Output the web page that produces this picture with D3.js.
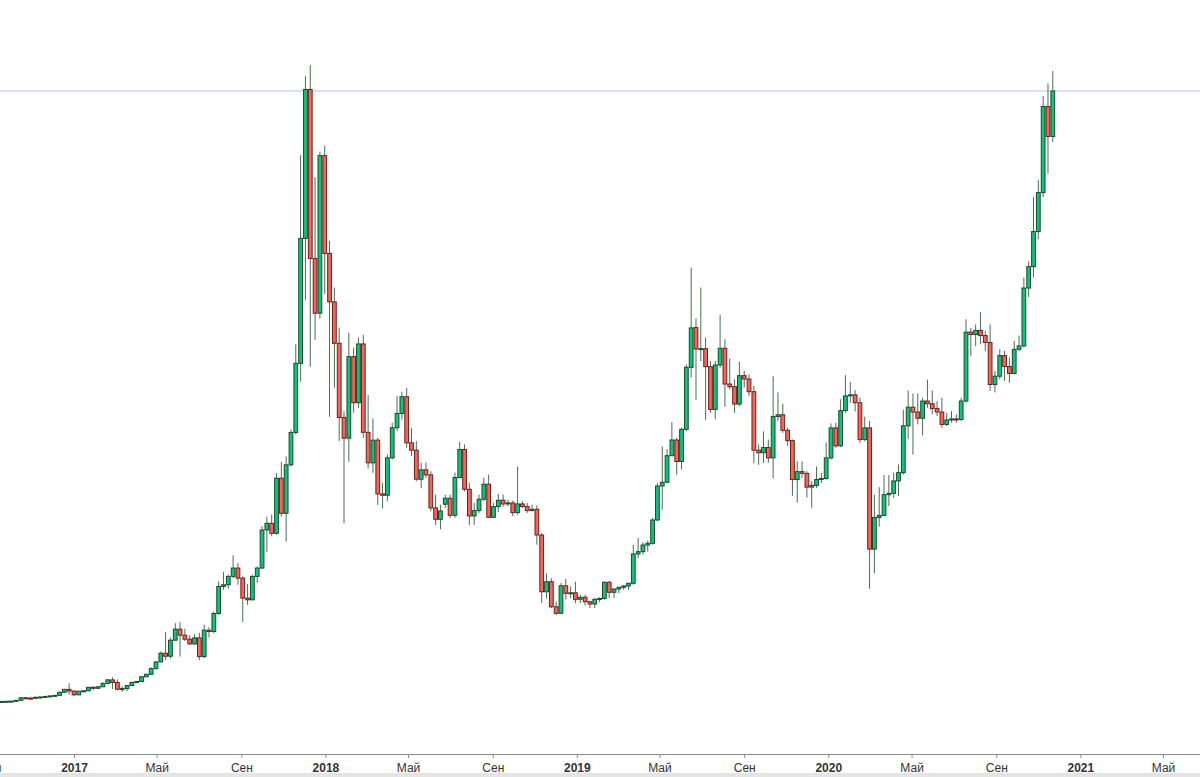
<!DOCTYPE html>
<html>
<head>
<meta charset="utf-8">
<script src="https://cdnjs.cloudflare.com/ajax/libs/d3/7.8.5/d3.min.js"></script>
<style>
    body { margin: 0; background: #fff; }
    #chart svg { display: block; }
</style>
</head>
<body>
<div id="chart"></div>
<script>
// Weekly BTC/USD candles, weeks start on Sunday
var firstWeek = "2016-09-11";

var opens = [610,601,606,611,617,640,716,706,702,730,740,757,772,788,880,
    968,918,806,912,926,1030,1000,1046,1140,1252,1175,972,992,1082,1175,1205,1345,1420,1590,1790,
    2050,1960,2440,2770,2590,2470,2330,2510,1950,2740,2700,3240,4050,4100,4350,4600,4300,3700,3650,4350,
    4600,5740,5940,5640,7290,6240,7690,8660,10730,14470,18930,13870,12230,
    16950,14020,12570,11330,9110,8490,10930,9550,11310,8665,7750,8430,6820,6780,7900,8800,9230,9730,8350,8130,
    7260,7540,7390,6400,6060,6510,6690,6180,7310,8150,6960,6160,6320,6660,7110,6120,6440,6630,6520,6550,
    6260,6520,6440,6320,6360,5590,3890,4190,3440,3245,4070,
    3845,3860,3665,3725,3593,3524,3665,3690,4174,3874,3973,4024,4063,4144,5021,5090,5290,5341,6039,7057,
    7168,7964,8434,7790,8754,10611,11800,11160,11170,10630,9350,10680,11180,10110,10030,9510,10360,10260,
    9880,8130,8055,8209,7899,9137,9189,8725,8415,7250,7487,7435,7023,7075,7250,
    7281,7899,8797,8260,9313,9756,9787,9550,8446,8797,5167,6116,6177,6796,6837,7208,7456,8859,9416,9271,
    9085,9601,9519,9374,9271,8900,9034,9065,9050,9601,11664,11592,11716,11561,11354,10096,10344,10962,10632,
    10426,11148,11251,12984,13623,14675,15841,18419,17522];

var highs = [615,612,615,620,642,722,742,745,750,752,770,778,796,900,982,
    1150,925,925,935,1035,1050,1060,1190,1280,1330,1260,1060,1095,1200,1215,1350,1440,1630,1810,2100,
    2680,2520,2950,2980,2780,2590,2620,2660,2900,2830,3300,4200,4480,4400,4980,4750,4350,4120,4400,4650,
    5850,6140,6200,7440,7780,7940,8750,11300,16970,19330,19660,16300,17070,
    17250,14400,13000,11800,9300,11650,11200,11500,11580,9780,9080,8500,7150,8000,8950,9750,9880,9990,8790,8400,
    7760,7760,7500,6800,6500,6800,6800,7460,8380,8300,7150,6550,6800,7310,7400,6550,6820,6800,6650,6620,
    7640,6600,6550,6500,6480,5650,4440,4300,3600,4150,4280,
    4050,4190,3800,3800,3620,3700,3720,4200,4220,3990,4040,4090,4150,5290,5500,5380,5420,6100,7150,8240,
    8160,8970,8500,8800,10700,13600,12080,13000,11500,10800,10800,12180,11450,10880,10250,10780,10500,10400,
    10050,8300,8694,8450,10344,9859,9519,8800,8450,7796,7796,7500,7200,7642,7450,
    8364,8931,8950,9653,10375,10168,9931,9700,9137,9000,6796,7023,7384,7384,7456,7700,9343,9911,9828,9828,
    9700,10241,9911,9600,9700,9250,9300,9200,9700,12050,11787,11891,12262,11700,11891,10500,11150,11100,
    10900,11400,11561,13300,13778,15706,16222,18728,19110,19481];

var lows = [596,594,600,606,612,635,695,700,695,722,730,748,760,782,872,
    812,760,795,885,915,950,990,1040,1130,980,940,890,920,1070,1150,1190,1330,1405,1560,1780,
    1850,1890,2430,1950,2420,2300,2300,1850,1900,2520,2650,3200,3950,3980,4300,4100,2980,3500,3630,4150,
    4570,5090,5550,5600,6140,5390,7650,8600,10180,12630,10630,11430,12070,
    12800,9130,10000,8400,5940,7780,9250,9400,8500,7580,7450,6490,6390,6600,7850,8700,9050,8200,7950,7200,
    6990,7300,6300,5890,5760,6400,6100,6100,7300,6900,5890,5890,6250,6600,6100,6100,6280,6440,6450,6150,
    6200,6400,6250,6300,5300,3550,3690,3400,3190,3230,3660,
    3700,3550,3550,3480,3400,3400,3580,3650,3700,3700,3850,3950,3950,4100,4900,5000,5090,5300,6000,6340,
    7150,7950,7390,7550,8700,10300,9630,10800,9030,9250,9050,10600,9430,9950,9250,9450,10000,9750,
    7740,7693,7745,7750,7281,9000,8650,8260,6765,6559,7300,6713,6404,7000,7150,
    7250,7850,8200,8220,9250,9550,9290,8350,8400,3980,4445,5837,6150,6456,6700,6765,7400,8467,8000,8900,
    8570,9400,9200,9150,8800,8850,8950,8950,9000,9550,10942,11251,11300,11100,9900,9859,10250,10200,
    10150,10400,11100,11200,12716,13300,14450,15706,16408,17357];

var closes = [601,606,611,617,640,716,706,702,730,740,757,772,788,880,968,
    918,806,912,926,1030,1000,1046,1140,1252,1175,972,992,1082,1175,1205,1345,1420,1590,1790,2050,
    1960,2440,2770,2590,2470,2330,2510,1950,2740,2700,3240,4050,4100,4350,4600,4300,3700,3650,4350,4600,
    5740,5940,5640,7290,6240,7690,8660,10730,14470,18930,13870,12230,16950,
    14020,12570,11330,9110,8490,10930,9550,11310,8665,7750,8430,6820,6780,7900,8800,9230,9730,8350,8130,7260,
    7540,7390,6400,6060,6310,6690,6180,7310,8150,6960,6160,6320,6660,7110,6120,6440,6630,6520,6550,6260,
    6520,6440,6320,6360,5590,3890,4190,3440,3245,4070,3845,
    3860,3665,3725,3593,3524,3665,3690,4174,3874,3973,4024,4063,4144,5021,5090,5290,5341,6039,7057,7168,
    7964,8434,7790,8754,10611,11790,11160,11170,10630,9350,10680,11180,10110,10030,9510,10360,10260,9880,
    8130,8055,8209,7899,9137,9189,8725,8415,7250,7487,7435,7023,7075,7250,7281,
    7899,8797,8260,9313,9756,9787,9550,8446,8797,5167,6116,6177,6796,6837,7208,7456,8859,9416,9271,9085,
    9601,9519,9374,9271,8900,9034,9065,9050,9601,11664,11592,11716,11561,11354,10096,10344,10962,10632,10426,
    11148,11251,12984,13623,14675,15841,18419,17522,18883];

// Axis ticks: Jan (year), May, Sep
var tickDates = ["2016-09-01","2017-01-01","2017-05-01","2017-09-01","2018-01-01","2018-05-01","2018-09-01",
    "2019-01-01","2019-05-01","2019-09-01","2020-01-01","2020-05-01","2020-09-01","2021-01-01","2021-05-01"];
var monthNames = {4: "Май", 8: "Сен"};

var width = 1200, height = 777,
    axisY = 754,
    upFill = "#0fc47a", upStroke = "#1b4a30",
    downFill = "#f2665c", downStroke = "#6e1f1a",
    wickColor = "#466f57",
    lastLineColor = "#ccd4f6";

var candles = opens.map(function (o, i) {
    return {
        date: d3.utcWeek.offset(new Date(firstWeek), i),
        open: o, high: highs[i], low: lows[i], close: closes[i]
    };
});

var svg = d3.select("#chart").append("svg")
    .attr("width", width)
    .attr("height", height);

// Scales
var x = d3.scaleUtc()
    .domain([new Date("2017-01-01"), new Date("2021-05-01")])
    .range([74, 1163]);

var y = d3.scaleLinear()
    .domain([0, 20000])
    .range([721.7, 53.7]);

var step = x(new Date("2017-01-08")) - x(new Date("2017-01-01"));
var bodyW = step * 0.78;

// bottom band
svg.append("rect")
    .attr("x", 0).attr("y", 773)
    .attr("width", width).attr("height", 4)
    .style("fill", "#e4e4e4");

// Last price line
svg.append("line")
    .attr("x1", 0).attr("x2", width)
    .attr("y1", y(closes[closes.length - 1]))
    .attr("y2", y(closes[closes.length - 1]))
    .style("stroke", lastLineColor)
    .style("stroke-width", 1.5);

// Wicks
svg.append("g").selectAll("line")
    .data(candles)
    .enter().append("line")
    .attr("x1", function (d) { return x(d.date); })
    .attr("x2", function (d) { return x(d.date); })
    .attr("y1", function (d) { return y(d.high); })
    .attr("y2", function (d) { return y(d.low); })
    .style("stroke", wickColor)
    .style("stroke-width", 1);

// Bodies
svg.append("g").selectAll("rect")
    .data(candles)
    .enter().append("rect")
    .attr("x", function (d) { return x(d.date) - bodyW / 2; })
    .attr("y", function (d) { return y(Math.max(d.open, d.close)); })
    .attr("width", bodyW)
    .attr("height", function (d) { return Math.max(1, Math.abs(y(d.open) - y(d.close))); })
    .style("fill", function (d) { return d.close >= d.open ? upFill : downFill; })
    .style("stroke", function (d) { return d.close >= d.open ? upStroke : downStroke; })
    .style("stroke-width", 1);

// X axis
var xAxis = d3.axisBottom(x)
    .tickValues(tickDates.map(function (s) { return new Date(s); }))
    .tickSize(4)
    .tickSizeOuter(0)
    .tickFormat(function (d) {
        var m = d.getUTCMonth();
        return m === 0 ? d.getUTCFullYear() : monthNames[m];
    });

var axisG = svg.append("g")
    .attr("transform", "translate(0," + axisY + ")")
    .call(xAxis);

axisG.select(".domain")
    .attr("d", "M0,0.5H" + width)
    .style("stroke", "#8a8a8a");

axisG.selectAll(".tick line").style("stroke", "#8a8a8a");

axisG.selectAll(".tick text")
    .attr("dy", "0.9em")
    .style("font-family", "'Liberation Sans', Arial, sans-serif")
    .style("font-size", "12px")
    .style("fill", "#333")
    .style("font-weight", function (d) { return d.getUTCMonth() === 0 ? "bold" : "normal"; });
</script>
</body>
</html>
